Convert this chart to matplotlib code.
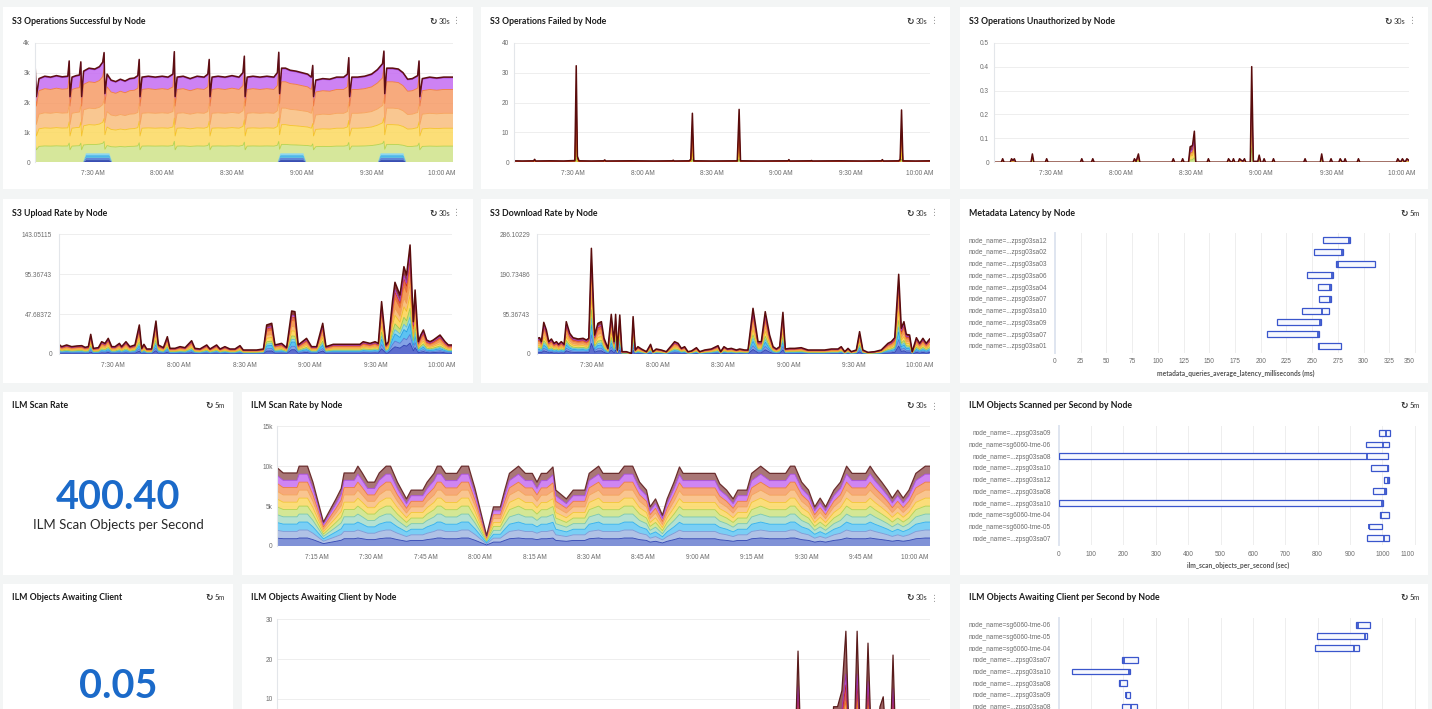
import numpy as np
import matplotlib
matplotlib.use('Agg')
import matplotlib.pyplot as plt
from matplotlib.patches import Rectangle

plt.rcParams['font.family'] = ['Lato', 'DejaVu Sans']

W, H = 1432, 709

# ---------------- data (time = minutes after 7:00 AM) ----------------
ts_ticks = [30, 60, 90, 120, 150, 180]
ts_labels = ['7:30 AM', '8:00 AM', '8:30 AM', '9:00 AM', '9:30 AM', '10:00 AM']
ilm_ticks = [15, 30, 45, 60, 75, 90, 105, 120, 135, 150, 165, 180]
ilm_labels = ['7:15 AM', '7:30 AM', '7:45 AM', '8:00 AM', '8:15 AM', '8:30 AM', '8:45 AM',
              '9:00 AM', '9:15 AM', '9:30 AM', '9:45 AM', '10:00 AM']

# S3 operations successful (total of all nodes) and node shares
ok_t = [5.3, 5.9, 7.0, 9.5, 12.0, 14.5, 17.0, 19.4, 20.0, 20.35, 21.2, 23.0, 24.4, 25.0, 25.35,
        26.2, 28.5, 31.0, 33.0, 34.4, 35.0, 35.35, 36.3, 38.0, 40.0, 42.0, 44.0, 46.0, 48.0, 49.5,
        50.1, 50.45, 51.3, 54.0, 57.0, 60.0, 62.5, 64.6, 65.2, 65.55, 66.4, 69.0, 72.0, 75.0, 78.0,
        79.6, 80.2, 80.55, 81.4, 84.0, 87.0, 90.0, 93.0, 94.7, 95.3, 95.65, 96.5, 99.0, 102.0, 105.0,
        108.0, 109.5, 110.1, 110.45, 111.3, 113.0, 115.0, 117.5, 120.0, 122.5, 124.1, 124.7, 125.05,
        126.0, 129.0, 132.0, 135.0, 138.0, 139.6, 140.2, 140.55, 141.5, 144.0, 147.0, 150.0, 152.5,
        154.7, 155.3, 155.65, 156.5, 159.0, 161.5, 163.5, 165.5, 167.5, 169.8, 170.4, 170.75, 171.8,
        175.0, 178.0, 181.0, 185.0]
ok_total = [3350, 2200, 2800, 2880, 2850, 2900, 2860, 2880, 3390, 2200, 2850, 2900, 2920, 3360, 2200,
            3050, 3150, 3120, 3200, 3350, 3670, 2300, 2950, 2750, 2700, 2780, 2720, 2800, 2820, 2900,
            3440, 2200, 2850, 2880, 2850, 2880, 2850, 2950, 3700, 2200, 2850, 2880, 2800, 2880, 2850,
            2950, 3440, 2200, 2850, 2880, 2850, 2900, 2850, 3000, 3550, 2200, 2850, 2880, 2850, 2880,
            2850, 3000, 3680, 2300, 3150, 3150, 3080, 3050, 3000, 2950, 2850, 3240, 2200,
            2750, 2800, 2780, 2850, 2850, 2950, 3500, 2200, 2850, 2850, 2880, 2950, 3100,
            3300, 3720, 2300, 3150, 3150, 3120, 3000, 2780, 2800, 2900, 3390, 2200, 2800,
            2850, 2820, 2850, 2850]
ok_shares = [0.19, 0.21, 0.175, 0.28, 0.135, 0.01]
ok_blue_t = [5.3, 26.0, 27.2, 37.3, 38.5, 109.6, 110.8, 120.7, 121.9, 152.7, 153.9, 163.7, 164.9, 185.0]
ok_blue_v = [0, 0, 300, 300, 0, 0, 300, 300, 0, 0, 300, 300, 0, 0]
ok_blue_shares = [0.25, 0.25, 0.3, 0.2]

# S3 operations failed
fail_t = [4.5, 8.0, 13.0, 13.4, 13.9, 20.0, 26.0, 30.8, 31.4, 31.9, 32.6, 38.0, 43.3, 43.7, 44.2,
          55.0, 65.0, 73.0, 73.3, 73.7, 80.2, 80.9, 81.6, 82.2, 90.0, 101.0, 101.8, 102.4, 110.0,
          123.0, 123.3, 123.7, 132.8, 133.1, 133.5, 145.0, 155.0, 163.3, 163.7, 164.1, 170.8, 171.4,
          172.0, 172.6, 178.0, 184.3]
fail_v = [0.5, 0.45, 0.5, 1.0, 0.45, 0.5, 0.45, 0.6, 32.3, 2.0, 0.5, 0.45, 0.5, 0.8, 0.45,
          0.5, 0.45, 0.5, 0.7, 0.45, 0.5, 1.0, 16.4, 0.5, 0.45, 0.5, 17.7, 0.5, 0.45,
          0.5, 0.9, 0.45, 0.5, 0.6, 0.45, 0.5, 0.45, 0.5, 0.9, 0.45, 0.5, 1.0,
          17.5, 0.5, 0.45, 0.5]
fail_shares = [0.06, 0.12, 0.3, 0.2, 0.32]

# S3 operations unauthorized
unauth_t = [5.8, 8.9, 9.5, 10.1, 12.7, 13.3, 13.9, 14.5, 15.1, 21.6, 22.2, 22.8, 27.7, 28.3, 28.9,
            42.7, 43.3, 43.9, 47.4, 48.0, 48.6, 65.2, 65.8, 66.5, 67.5, 68.1, 81.8, 82.4, 83.0,
            85.8, 86.4, 87.0, 88.9, 89.6, 90.6, 91.4, 92.0, 96.8, 97.4, 98.0, 105.4, 106.0, 106.8,
            107.5, 108.1, 108.7, 110.1, 110.7, 111.5, 112.2, 112.8, 113.4, 115.3, 115.9, 116.6,
            118.5, 119.1, 119.8, 120.6, 121.2, 121.8, 124.6, 125.2, 125.8, 138.1, 138.7, 139.3,
            145.2, 145.8, 146.4, 149.2, 149.8, 150.4, 153.1, 153.7, 154.4, 155.2, 155.8, 156.4,
            160.9, 161.5, 162.1, 177.7, 178.3, 179.0, 179.7, 180.3, 181.0, 181.6, 182.2, 183.1]
unauth_v = [0, 0, 0.015, 0, 0, 0.015, 0.008, 0.015, 0, 0, 0.035, 0, 0, 0.015, 0,
            0, 0.015, 0, 0, 0.015, 0, 0, 0.015, 0.004, 0.035, 0, 0, 0.015, 0,
            0, 0.015, 0, 0, 0.065, 0.07, 0.13, 0, 0, 0.015, 0, 0, 0.015, 0.003,
            0, 0.015, 0, 0, 0.015, 0.008, 0.005, 0.015, 0, 0, 0.40, 0.004,
            0.004, 0.03, 0, 0, 0.015, 0, 0, 0.015, 0, 0, 0.015, 0,
            0, 0.035, 0, 0, 0.015, 0, 0, 0.015, 0.004, 0, 0.015, 0,
            0, 0.015, 0, 0, 0.015, 0.004, 0.004, 0.015, 0.004, 0.004, 0.015, 0.008]
unauth_shares = [0.15, 0.25, 0.2, 0.15, 0.25]

# S3 upload rate
up_t = [5.2, 6.4, 8.7, 11.0, 13.3, 15.6, 17.1, 18.6, 19.7, 20.9, 23.2, 24.7, 26.2, 27.7, 29.3,
        30.8, 32.8, 33.8, 35.8, 37.6, 39.9, 41.9, 43.0, 44.0, 45.3, 47.5, 49.5, 50.6, 52.9, 54.7,
        55.9, 58.2, 60.5, 62.8, 65.8, 67.3, 69.6, 72.7, 74.2, 77.2, 78.8, 81.0, 83.3, 85.6, 87.9,
        89.4, 92.5, 95.5, 98.6, 100.1, 102.4, 103.9, 106.9, 109.2, 111.5, 113.0, 114.5, 118.3,
        120.6, 122.9, 125.7, 127.2, 130.5, 138.1, 142.7, 144.2, 147.3, 149.6, 151.1, 152.6, 154.6,
        155.7, 157.6, 158.7, 161.0, 162.8, 164.0, 165.6, 167.1, 167.9, 169.4, 170.5, 171.7, 173.2,
        174.7, 176.2, 179.3, 181.6, 183.1, 184.9]
up_v = [11.6, 8.8, 10.8, 8.8, 9.6, 10.0, 8.0, 8.8, 23.5, 6.8, 7.6, 14.7, 12.7, 18.7, 8.8,
        8.8, 12.7, 8.8, 14.7, 8.8, 10.8, 34.7, 6.8, 11.6, 6.0, 6.0, 39.4, 10.8, 7.6, 20.7,
        6.8, 6.8, 8.8, 7.6, 15.9, 6.8, 6.0, 10.8, 6.0, 10.8, 6.0, 8.8, 6.0, 6.0, 10.0,
        4.8, 4.8, 4.8, 6.0, 34.7, 36.7, 10.8, 12.7, 7.6, 51.4, 50.6, 10.8, 18.7,
        8.8, 8.8, 36.7, 8.8, 11.6, 11.6, 11.6, 14.7, 12.7, 14.7, 12.7, 62.6, 10.8,
        14.7, 63.4, 85.7, 70.5, 104.4, 94.4, 130.3, 38.6, 76.5, 14.7, 22.7, 28.7, 16.7,
        14.7, 16.7, 22.7, 14.7, 10.8, 10.8]

# S3 download rate
dn_t = [4.8, 6.0, 6.8, 7.9, 9.1, 10.2, 11.4, 12.6, 13.7, 14.7, 15.9, 17.2, 18.2, 19.8, 21.3,
        23.6, 25.9, 27.4, 28.5, 29.7, 31.2, 32.7, 34.3, 35.5, 37.3, 38.8, 40.1, 40.8, 41.6, 42.7,
        43.7, 45.7, 48.0, 48.8, 49.8, 51.0, 52.6, 54.9, 56.8, 57.9, 59.4, 61.7, 64.0, 66.3, 67.8,
        69.4, 70.9, 72.4, 73.9, 75.5, 77.8, 79.3, 81.6, 84.6, 87.7, 88.9, 90.4, 92.0, 93.8, 96.1,
        97.6, 99.9, 101.4, 103.7, 106.0, 107.5, 109.3, 111.3, 112.9, 114.4, 115.9, 117.4, 118.5,
        120.5, 122.8, 125.8, 128.9, 131.9, 136.5, 139.6, 142.6, 144.1, 145.7, 147.2, 148.7, 151.0,
        152.5, 154.0, 156.3, 159.4, 162.4, 165.5, 167.0, 168.6, 170.4, 171.6, 172.8, 173.9, 175.4,
        176.6, 178.5, 180.0, 181.5, 183.0, 184.6]
dn_v = [37.5, 39.0, 29.5, 75.7, 57.4, 29.5, 35.9, 25.5, 29.5, 23.1, 29.5, 23.1, 77.3, 49.4, 39.0,
        35.9, 37.5, 33.5, 37.5, 252.6, 45.4, 73.3, 77.3, 37.5, 13.5, 94.8, 29.5, 94.8, 9.6, 93.2,
        5.6, 5.6, 1.6, 89.3, 9.6, 17.5, 12.0, 5.6, 23.1, 5.6, 12.0, 9.6, 5.6, 19.9, 29.5,
        25.5, 13.5, 17.5, 5.6, 7.2, 15.1, 5.6, 9.6, 12.0, 19.9, 5.6, 17.5, 12.0, 13.5, 9.6,
        12.0, 9.6, 9.6, 109.2, 29.5, 29.5, 101.2, 45.4, 17.5, 12.0, 17.5, 99.6, 12.0,
        13.5, 13.5, 15.1, 9.6, 9.6, 9.6, 12.0, 12.0, 17.5, 5.6, 13.5, 5.6, 9.6,
        53.4, 9.6, 4.0, 5.6, 9.6, 25.5, 29.5, 39.0, 190.5, 61.4, 77.3, 47.0, 45.4,
        5.6, 39.0, 25.5, 37.5, 25.5, 35.9]
rate_shares = [0.10, 0.08, 0.10, 0.06, 0.08, 0.12, 0.10, 0.14, 0.08, 0.04, 0.10]

# ILM scan rate by node
ilm_t = [4.1, 5.7, 9.5, 10.1, 12.4, 13.9, 16.8, 20.2, 21.7, 22.5, 25.3, 26.3, 27.5, 29.0, 30.9,
         32.2, 34.1, 35.3, 37.2, 39.7, 41.0, 44.2, 45.4, 47.3, 48.2, 49.2, 50.5, 53.6, 54.9, 56.8,
         58.6, 61.8, 63.7, 65.6, 66.8, 68.1, 70.6, 72.5, 74.4, 75.7, 76.9, 78.4, 80.1, 80.9, 83.8,
         85.7, 88.9, 90.1, 92.7, 93.9, 98.3, 99.8, 102.1, 104.0, 105.9, 106.9, 108.4, 110.3, 111.6,
         113.5, 115.0, 116.0, 124.8, 126.1, 128.0, 129.8, 131.1, 133.6, 134.9, 137.4, 139.9, 144.3,
         145.6, 146.8, 148.7, 150.6, 152.3, 153.8, 155.3, 157.6, 159.4, 161.1, 162.6, 166.4, 167.6,
         168.9, 170.8, 172.4, 173.7, 175.2, 176.7, 178.3, 180.2, 182.8, 184.1]
ilm_v = [9780, 9150, 9150, 10000, 10000, 8000, 3000, 5850, 7200, 9150, 9150, 10000, 9150, 8000, 8000,
         9150, 10000, 10000, 8000, 5900, 7000, 7000, 8000, 9100, 10000, 10000, 9100, 9100, 10000, 10000,
         7200, 1300, 4900, 4900, 7000, 9100, 10000, 9100, 9100, 8000, 9100, 9100, 9900, 7000, 5900,
         7000, 7000, 9100, 10000, 9100, 9100, 10000, 10000, 8000, 7000, 4900, 5900, 3850, 5900,
         8000, 9900, 9100, 9100, 7800, 7000, 5900, 7000, 7000, 9100, 10000, 9100, 9100,
         10000, 10000, 8000, 7000, 4900, 6000, 4900, 7000, 8000, 10000, 9100, 9100, 10000,
         9100, 8000, 7000, 6000, 7000, 6000, 7000, 9100, 10000, 10000]
ilm_shares = [0.1, 0.1, 0.1, 0.1, 0.1, 0.1, 0.1, 0.1, 0.1, 0.1]

# ILM objects awaiting client by node
await_t = [4.1, 147.0, 147.7, 148.4, 157.0, 157.5, 158.6, 159.8, 160.9, 161.8, 163.2, 164.0,
           164.9, 166.2, 167.0, 167.9, 169.6, 170.3, 171.2, 172.0, 173.2, 173.9, 174.6, 184.1]
await_v = [0, 0, 22, 0, 0, 8, 8, 12, 27, 0, 0, 27, 0, 0, 24, 0, 0, 8, 10.5, 0, 0, 21, 0, 0]
await_shares = [0.15, 0.1, 0.1, 0.15, 0.1, 0.4]

# metadata latency by node (ms)
meta_labels = ['node_name=...zpsg03sa12', 'node_name=...zpsg03sa02', 'node_name=...zpsg03sa03',
               'node_name=...zpsg03sa06', 'node_name=...zpsg03sa04', 'node_name=...zpsg03sa07',
               'node_name=...zpsg03sa10', 'node_name=...zpsg03sa09', 'node_name=...zpsg03sa07',
               'node_name=...zpsg03sa01']
meta_lo = [261, 252, 273, 245, 256, 257, 240, 216, 206, 256]
meta_hi = [287, 280, 311, 270, 268, 268, 266, 258.5, 257, 278]
meta_mid = [286, 279, 275, 269, 267, 267, 260, 258, 256, 257]

# ILM objects scanned per second by node
scan_labels = ['node_name=...zpsg03sa09', 'node_name=sg6060-tme-06', 'node_name=...zpsg03sa08',
               'node_name=...zpsg03sa10', 'node_name=...zpsg03sa12', 'node_name=...zpsg03sa08',
               'node_name=...zpsg03sa10', 'node_name=sg6060-tme-04', 'node_name=sg6060-tme-05',
               'node_name=...zpsg03sa07']
scan_lo = [991, 950, 0, 964, 1006, 972, 0, 993, 958, 952]
scan_hi = [1024, 1022, 1018, 1018, 1021, 1011, 1001, 1021, 1000, 1022]
scan_mid = [1011, 1003, 954, 1016, 1016, 1009, 999, 995, 960, 1006]

# ILM objects awaiting client per second by node
aps_labels = ['node_name=sg6060-tme-06', 'node_name=sg6060-tme-05', 'node_name=sg6060-tme-04',
              'node_name=...zpsg03sa07', 'node_name=...zpsg03sa10', 'node_name=...zpsg03sa08',
              'node_name=...zpsg03sa09', 'node_name=...zpsg03sa08']
aps_lo = [0.0920, 0.0798, 0.0793, 0.0197, 0.0040, 0.0187, 0.0207, 0.0197]
aps_hi = [0.0961, 0.0951, 0.0929, 0.0244, 0.0221, 0.0210, 0.0219, 0.0243]
aps_mid = [0.0925, 0.0947, 0.0911, 0.0203, 0.0218, 0.0189, 0.0208, 0.0223]

scan_rate_value = '400.40'
awaiting_value = '0.05'

# ---------------- colours ----------------
ok_fill = ['#cfe38a', '#fcd95f', '#f9bd7e', '#f69b66', '#c56cf2', '#7a1c1c']
ok_edge = ['#b5d24e', '#f5c328', '#f7a35a', '#f07a3c', '#a344e6', '#5e0f12']
blue_fill = ['#2f45b5', '#5c82dc', '#45b6f2', '#8ad6f7']
fail_fill = ['#b8d95a', '#f9cc2e', '#f28a26', '#d9342a', '#7a1616']
fail_edge = ['#9cc43a', '#efb814', '#e8731a', '#b8221c', '#5a0c0c']
unauth_fill = ['#c4df7c', '#fbd04a', '#f39a3a', '#b83fd0', '#7a1818']
unauth_edge = ['#a8cc4c', '#f0bb22', '#e67c20', '#9a2ab4', '#5a0c0c']
rate_fill = ['#3f54c6', '#6f92e2', '#3fb8f0', '#7fd3e6', '#b9db6c', '#fcd24c', '#f9b468',
             '#f38b3d', '#e2512f', '#c14bd6', '#7a1a1a']
rate_edge = ['#2c3fb0', '#557ad4', '#249fe0', '#5cbfd6', '#9dc84a', '#f0bd22', '#f19c48',
             '#e8702a', '#cc3a1c', '#a334bc', '#5a0c0c']
ilm_fill = ['#6a7fd0', '#a3b8e2', '#63c7f4', '#a6dccb', '#cde383', '#fbd863', '#f8bb7d',
            '#f59a63', '#c770f0', '#9a5e5e']
ilm_edge = ['#2f44b3', '#7d97d4', '#2fb0ee', '#78c7ae', '#b2d24f', '#f3c532', '#f4a257',
            '#ee7b3a', '#a94ae3', '#6b2e2e']
await_fill = ['#4a62cf', '#fbd04a', '#f39a3a', '#d63a3a', '#b83fd0', '#8a4545']
await_edge = ['#2c3fb0', '#f0bb22', '#e67c20', '#b8221c', '#9a2ab4', '#5a1c1c']
box_blue = '#3a56cc'

fig = plt.figure(figsize=(W / 100, H / 100), dpi=100)
fig.patch.set_facecolor('#f3f5f5')


def fx(x):
    return x / W


def fy(y):
    return 1 - y / H


def add_ax(x0, y0, x1, y1):
    return fig.add_axes([fx(x0), fy(y1), (x1 - x0) / W, (y1 - y0) / H])


def add_panel(x0, y0, x1, y1, title, refresh, menu=True):
    fig.add_artist(Rectangle((fx(x0), fy(y1)), (x1 - x0) / W, (y1 - y0) / H,
                             transform=fig.transFigure, facecolor='white',
                             edgecolor='none', zorder=-5))
    yc = fy(y0 + 14)
    fig.text(fx(x0 + 9), yc, title, fontsize=6.3, fontweight='bold', color='#1c1c1c', va='center')
    if menu:
        fig.text(fx(x1 - 40), yc, '↻', fontsize=6.5, family='DejaVu Sans', color='#333333',
                 va='center', ha='center', fontweight='bold')
        fig.text(fx(x1 - 34), yc, refresh, fontsize=5.3, color='#333333', va='center')
        fig.text(fx(x1 - 16), yc, '⋮', fontsize=6.5, family='DejaVu Sans', color='#9a9a9a',
                 va='center', ha='center')
    else:
        fig.text(fx(x1 - 24), yc, '↻', fontsize=6.5, family='DejaVu Sans', color='#333333',
                 va='center', ha='center', fontweight='bold')
        fig.text(fx(x1 - 18), yc, refresh, fontsize=5.3, color='#333333', va='center')


def style_ts(ax, xlim, ylim, yticks, ylabels, xticks, xlabels, ypad=3.5):
    ax.set_facecolor('white')
    ax.set_xlim(*xlim)
    ax.set_ylim(*ylim)
    ax.set_yticks(yticks, ylabels)
    ax.set_xticks(xticks, xlabels)
    for s in ('top', 'right', 'bottom'):
        ax.spines[s].set_visible(False)
    ax.spines['left'].set_color('#e3e6ea')
    ax.spines['left'].set_linewidth(0.8)
    ax.grid(axis='y', color='#eeeeee', lw=0.7)
    ax.set_axisbelow(True)
    ax.tick_params(axis='x', length=0, labelsize=4.7, labelcolor='#6b6b6b', pad=5.5)
    ax.tick_params(axis='y', length=0, labelsize=4.7, labelcolor='#6b6b6b', pad=ypad)
    for lab in ax.get_xticklabels() + ax.get_yticklabels():
        lab.set_family('Liberation Sans')


def draw_stack(ax, t, total, shares, fills, edges, top_lw=0.9, alpha=0.85):
    total = np.asarray(total, dtype=float)
    layers = [total * s for s in shares]
    ax.stackplot(t, layers, colors=fills, alpha=alpha, lw=0)
    top = np.zeros_like(total)
    for i, (layer, ec) in enumerate(zip(layers, edges)):
        top = top + layer
        lw = top_lw if i == len(layers) - 1 else 0.6
        ax.plot(t, top, color=ec, lw=lw, solid_joinstyle='round')


def draw_boxes(ax, labels, lo, hi, mid, xlim, xticks, xlabel, show_x=True):
    y = np.arange(len(labels))
    lo = np.asarray(lo, dtype=float)
    hi = np.asarray(hi, dtype=float)
    ax.barh(y, hi - lo, left=lo, height=0.5, color='#f6f8fe', edgecolor=box_blue, lw=0.9, zorder=3)
    ax.vlines(mid, y - 0.25, y + 0.25, color=box_blue, lw=1.3, zorder=4)
    ax.set_yticks(y, labels)
    ax.set_ylim(9.6, -0.6)
    ax.set_xlim(*xlim)
    if show_x:
        ax.set_xticks(xticks, [str(v) for v in xticks])
    else:
        ax.set_xticks(xticks, [])
    for s in ('top', 'right', 'bottom'):
        ax.spines[s].set_visible(False)
    ax.spines['left'].set_color('#dfe5f0')
    ax.spines['left'].set_linewidth(1.4)
    ax.grid(axis='x', color='#eeeeee', lw=0.7)
    ax.set_axisbelow(True)
    ax.tick_params(axis='x', length=0, labelsize=4.7, labelcolor='#6b6b6b', pad=3.8)
    ax.tick_params(axis='y', length=0, labelsize=4.7, labelcolor='#6b6b6b', pad=5.5)
    for lab in ax.get_xticklabels() + ax.get_yticklabels():
        lab.set_family('Liberation Sans')
    if show_x:
        ax.get_xticklabels()[-1].set_horizontalalignment('right')
    if xlabel:
        ax.set_xlabel(xlabel, fontsize=4.8, fontweight='bold', color='#555555', labelpad=3)


# ---------------- panels ----------------
add_panel(3, 7, 473, 189, 'S3 Operations Successful by Node', '30s')
add_panel(481, 7, 950, 189, 'S3 Operations Failed by Node', '30s')
add_panel(960, 7, 1428, 189, 'S3 Operations Unauthorized by Node', '30s')
add_panel(3, 199, 473, 383, 'S3 Upload Rate by Node', '30s')
add_panel(481, 199, 950, 383, 'S3 Download Rate by Node', '30s')
add_panel(960, 199, 1428, 383, 'Metadata Latency by Node', '5m', menu=False)
add_panel(3, 392, 233, 575, 'ILM Scan Rate', '5m', menu=False)
add_panel(242, 392, 950, 575, 'ILM Scan Rate by Node', '30s')
add_panel(960, 392, 1428, 575, 'ILM Objects Scanned per Second by Node', '5m', menu=False)
add_panel(3, 584, 233, 760, 'ILM Objects Awaiting Client', '5m', menu=False)
add_panel(242, 584, 950, 760, 'ILM Objects Awaiting Client by Node', '30s')
add_panel(960, 584, 1428, 760, 'ILM Objects Awaiting Client per Second by Node', '5m', menu=False)

# S3 operations successful
ax = add_ax(35, 42.7, 453, 162.3)
draw_stack(ax, ok_t, ok_total, ok_shares, ok_fill, ok_edge, top_lw=1.1)
blue = [np.asarray(ok_blue_v, dtype=float) * s for s in ok_blue_shares]
ax.stackplot(ok_blue_t, blue, colors=blue_fill, alpha=0.95, lw=0, zorder=3)
style_ts(ax, (5.3, 185.0), (0, 4000), [0, 1000, 2000, 3000, 4000], ['0', '1k', '2k', '3k', '4k'],
         ts_ticks, ts_labels)

# S3 operations failed
ax = add_ax(514, 42.7, 930, 162.3)
draw_stack(ax, fail_t, fail_v, fail_shares, fail_fill, fail_edge, top_lw=1.1)
style_ts(ax, (4.5, 184.3), (0, 40), [0, 10, 20, 30, 40], ['0', '10', '20', '30', '40'],
         ts_ticks, ts_labels)

# S3 operations unauthorized
ax = add_ax(994, 42.7, 1409, 162.3)
draw_stack(ax, unauth_t, unauth_v, unauth_shares, unauth_fill, unauth_edge, top_lw=1.1)
style_ts(ax, (5.8, 183.1), (0, 0.5), [0, 0.1, 0.2, 0.3, 0.4, 0.5],
         ['0', '0.1', '0.2', '0.3', '0.4', '0.5'], ts_ticks, ts_labels)

# S3 upload rate
ax = add_ax(59, 234.3, 452.3, 354)
draw_stack(ax, up_t, up_v, rate_shares, rate_fill, rate_edge, top_lw=1.1)
style_ts(ax, (5.2, 184.9), (0, 143.05115), [0, 47.68372, 95.36743, 143.05115],
         ['0', '47.68372', '95.36743', '143.05115'], ts_ticks, ts_labels, ypad=5)

# S3 download rate
ax = add_ax(537, 234.3, 929.7, 354)
draw_stack(ax, dn_t, dn_v, rate_shares, rate_fill, rate_edge, top_lw=1.1)
style_ts(ax, (4.8, 184.6), (0, 286.10229), [0, 95.36743, 190.73486, 286.10229],
         ['0', '95.36743', '190.73486', '286.10229'], ts_ticks, ts_labels, ypad=5)

# metadata latency
ax = add_ax(1055, 233, 1417, 353)
draw_boxes(ax, meta_labels, meta_lo, meta_hi, meta_mid, (0, 352),
           list(range(0, 351, 25)), 'metadata_queries_average_latency_milliseconds (ms)')

# ILM scan rate stat
fig.text(fx(118), fy(509), scan_rate_value, fontsize=28.5, fontweight='bold', color='#1b6ac9',
         ha='center', va='baseline')
fig.text(fx(118), fy(529), 'ILM Scan Objects per Second', fontsize=9.5, color='#2a2a2a',
         ha='center', va='baseline')

# ILM scan rate by node
ax = add_ax(277.4, 426.3, 930, 546)
draw_stack(ax, ilm_t, ilm_v, ilm_shares, ilm_fill, ilm_edge, top_lw=0.9)
style_ts(ax, (4.1, 184.1), (0, 15000), [0, 5000, 10000, 15000], ['0', '5k', '10k', '15k'],
         ilm_ticks, ilm_labels)

# ILM objects scanned per second
ax = add_ax(1058.7, 425.7, 1417, 545.3)
draw_boxes(ax, scan_labels, scan_lo, scan_hi, scan_mid, (0, 1107),
           list(range(0, 1101, 100)), 'ilm_scan_objects_per_second (sec)')

# ILM objects awaiting client stat
fig.text(fx(118), fy(698), awaiting_value, fontsize=28.5, fontweight='bold', color='#1b6ac9',
         ha='center', va='baseline')

# ILM objects awaiting client by node (its time axis lies below the visible area)
ax = add_ax(277.4, 619.3, 930, 738.5)
draw_stack(ax, await_t, await_v, await_shares, await_fill, await_edge, top_lw=0.9)
style_ts(ax, (4.1, 184.1), (0, 30), [10, 20, 30], ['10', '20', '30'], ilm_ticks, [])

# ILM objects awaiting client per second
ax = add_ax(1058.7, 617.7, 1417, 737)
draw_boxes(ax, aps_labels, aps_lo, aps_hi, aps_mid, (0, 0.1107),
           [0.0, 0.01, 0.02, 0.03, 0.04, 0.05, 0.06, 0.07, 0.08, 0.09, 0.10, 0.11], '', show_x=False)

fig.savefig('out.png', dpi=100, facecolor=fig.get_facecolor())
